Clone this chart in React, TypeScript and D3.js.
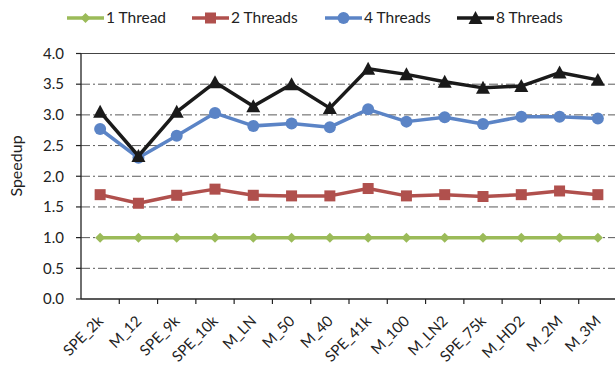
import React from "react";
import * as d3 from "d3";

const categories = ["SPE_2k","M_12","SPE_9k","SPE_10k","M_LN","M_50","M_40","SPE_41k","M_100","M_LN2","SPE_75k","M_HD2","M_2M","M_3M"];
const thread1 = [1,1,1,1,1,1,1,1,1,1,1,1,1,1];
const thread2 = [1.70,1.56,1.69,1.79,1.69,1.68,1.68,1.80,1.68,1.70,1.67,1.70,1.76,1.70];
const thread4 = [2.77,2.30,2.66,3.03,2.82,2.86,2.80,3.09,2.89,2.96,2.85,2.97,2.97,2.94];
const thread8 = [3.05,2.33,3.05,3.53,3.14,3.50,3.11,3.75,3.66,3.54,3.44,3.47,3.69,3.57];
const yTicks = [0,0.5,1,1.5,2,2.5,3,3.5,4];
const seriesNames = ["1 Thread","2 Threads","4 Threads","8 Threads"];
const seriesColors = ["#9BBB59","#B0504D","#5B84C6","#1A1A1A"];
const seriesMarkers = ["diamond","square","circle","triangle"];
const seriesData = [thread1, thread2, thread4, thread8];

const FONT = "Lato, 'Open Sans', sans-serif";

function Marker({ type, x, y, color }: { type: string; x: number; y: number; color: string }) {
  if (type === "diamond") {
    const s = 5;
    return <path d={`M${x},${y - s}L${x + s},${y}L${x},${y + s}L${x - s},${y}Z`} fill={color} />;
  }
  if (type === "square") {
    const s = 5.5;
    return <rect x={x - s} y={y - s} width={2 * s} height={2 * s} fill={color} />;
  }
  if (type === "circle") {
    return <circle cx={x} cy={y} r={6} fill={color} />;
  }
  const s = 7;
  return <path d={`M${x},${y - s}L${x + s},${y + s * 0.85}L${x - s},${y + s * 0.85}Z`} fill={color} />;
}

export default function App() {
  const W = 615, H = 369;
  const left = 81, right = 617, top = 53.5, bottom = 299;
  const x = d3.scaleBand<string>().domain(categories).range([left, right]);
  const y = d3.scaleLinear().domain([0, 4]).range([bottom, top]);
  const cx = (c: string) => (x(c) as number) + x.bandwidth() / 2;
  const line = d3.line<number>().x((_, i) => cx(categories[i])).y((d) => y(d));

  const legendX = [67, 192, 325, 457];

  return (
    <svg width={W} height={H} style={{ position: "absolute", left: 0, top: 0, background: "#fff" }} fontFamily={FONT}>
      {/* gridlines */}
      {yTicks.filter((t) => t > 0).map((t) => (
        <line key={t} x1={left} x2={W} y1={y(t)} y2={y(t)} stroke={t === 4 ? "#444" : "#5a5a5a"} strokeWidth={1}
          strokeDasharray={t === 4 ? "none" : "9,3,2,3"} />
      ))}
      {/* y axis */}
      <line x1={left} x2={left} y1={top} y2={bottom} stroke="#222" strokeWidth={1.3} />
      {yTicks.map((t) => (
        <g key={t}>
          <line x1={left - 5} x2={left} y1={y(t)} y2={y(t)} stroke="#222" strokeWidth={1.2} />
          <text x={left - 17} y={y(t)} dy="0.35em" textAnchor="end" fontSize={15} fill="#222">{t.toFixed(1)}</text>
        </g>
      ))}
      <text transform={`translate(22,166) rotate(-90)`} textAnchor="middle" fontSize={16} fill="#222">Speedup</text>
      {/* x axis */}
      <line x1={left} x2={W} y1={bottom} y2={bottom} stroke="#222" strokeWidth={1.3} />
      {categories.map((c) => (
        <line key={c} x1={(x(c) as number) + x.bandwidth()} x2={(x(c) as number) + x.bandwidth()} y1={bottom} y2={bottom + 5} stroke="#222" strokeWidth={1.2} />
      ))}
      {categories.map((c) => (
        <text key={c} transform={`translate(${cx(c) + 4},${bottom + 23}) rotate(-45)`} textAnchor="end" fontSize={15} fill="#222">{c}</text>
      ))}
      {/* series */}
      {seriesData.map((data, si) => (
        <g key={si}>
          <path d={line(data) as string} fill="none" stroke={seriesColors[si]} strokeWidth={3.5} strokeLinejoin="round" />
          {data.map((v, i) => (
            <Marker key={i} type={seriesMarkers[si]} x={cx(categories[i])} y={y(v)} color={seriesColors[si]} />
          ))}
        </g>
      ))}
      {/* legend */}
      {seriesNames.map((n, si) => (
        <g key={n}>
          <line x1={legendX[si]} x2={legendX[si] + 37} y1={18} y2={18} stroke={seriesColors[si]} strokeWidth={3.5} />
          <Marker type={seriesMarkers[si]} x={legendX[si] + 18.5} y={18} color={seriesColors[si]} />
          <text x={legendX[si] + 39} y={18} dy="0.35em" fontSize={15.5} fill="#222">{n}</text>
        </g>
      ))}
    </svg>
  );
}
